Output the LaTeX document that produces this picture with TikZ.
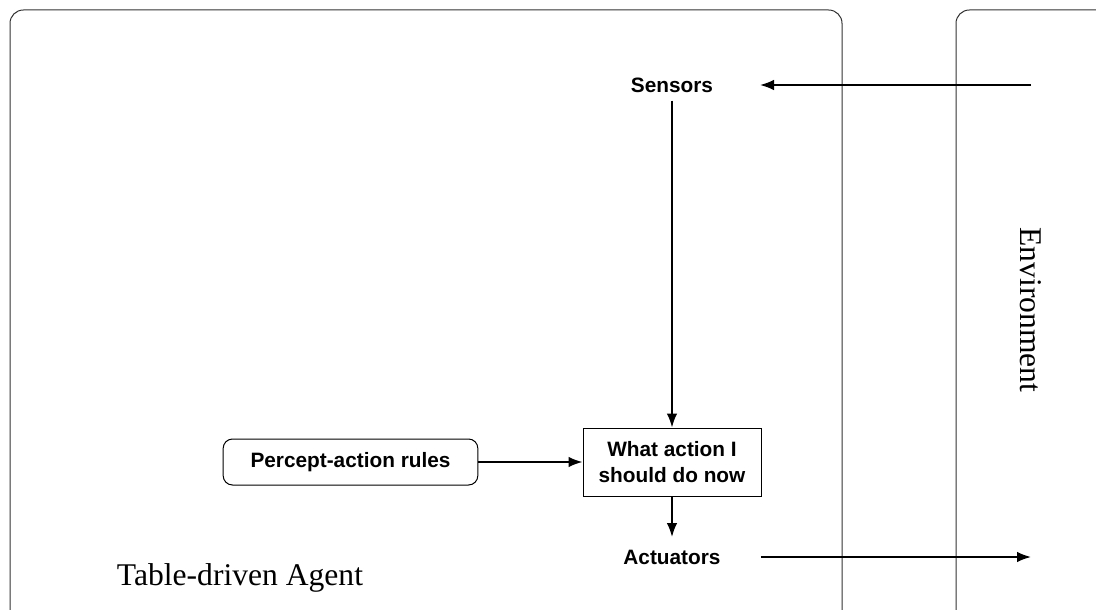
\documentclass[tikz,border=0pt]{standalone}
\usepackage{fontspec}
\setmainfont{Liberation Serif}
\newfontfamily\labelfont{Liberation Sans}
\usetikzlibrary{arrows.meta}
\begin{document}
\begin{tikzpicture}[x=0.75pt,y=-0.75pt,
  frame/.style={draw=black!80,line width=0.75pt,rounded corners=10pt},
  lbl/.style={font=\labelfont\bfseries\fontsize{15.6}{19.5}\selectfont,align=center,inner sep=0pt},
  rulebox/.style={lbl,draw,line width=0.75pt,rounded corners=7pt,minimum width=191pt,minimum height=34.5pt},
  choice/.style={lbl,draw,line width=0.75pt,minimum width=133.5pt,minimum height=51pt},
  big/.style={font=\fontsize{23.7}{28}\selectfont,inner sep=0pt},
  flow/.style={-{Latex[length=10.5pt,width=8pt]},line width=1.35pt}]
\useasboundingbox (0,0) rectangle (1096,610);
% agent and environment frames
\draw[frame] (10,625) |- (842,10) -- (842,625);
\draw[frame] (1115,10) -| (956,625);
% labels
\node[lbl] (sens) at (672,85) {Sensors};
\node[lbl] (act) at (672,557) {Actuators};
\node[choice] (what) at (672,462) {What action I\\should do now};
\node[rulebox] (rules) at (350.5,462) {Percept-action rules};
\node[big] (agent) at (240,578) {Table-driven Agent};
\node[big,rotate=-90] (env) at (1031,310) {Environment};
% external endpoints
\coordinate (envin) at (1031,85);
\coordinate (envout) at (1031,557);
% connectors
\draw[flow] (envin) -- (sens.east -| 760,0);
\draw[flow] (sens.south) ++(0,8) -- (what.north);
\draw[flow] (rules.east) -- (what.west);
\draw[flow] (what.south) -- (what.south |- 0,537);
\draw[flow] (act.east) ++(40,0) -- (envout);
\end{tikzpicture}
\end{document}
